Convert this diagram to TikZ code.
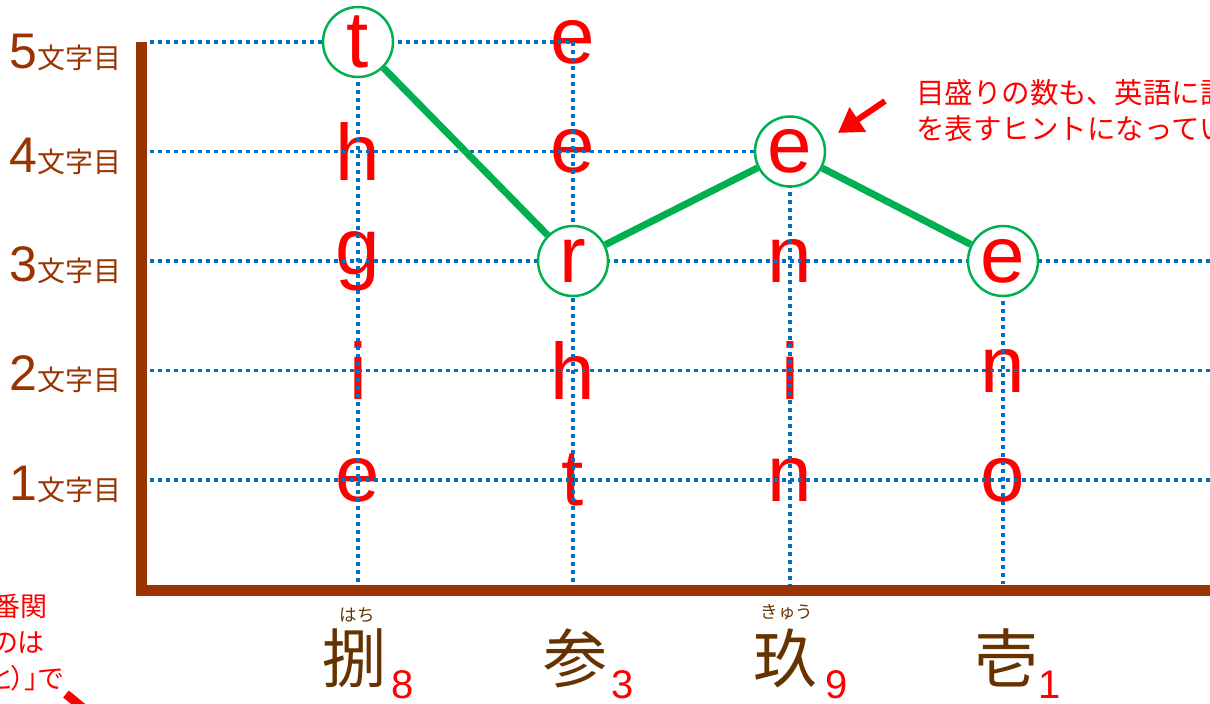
\documentclass[tikz,border=0pt]{standalone}
\usepackage{fontspec}
\setmainfont{Liberation Sans}
\newfontfamily\jpfont{Noto Sans CJK JP}
\newfontfamily\jpnote[RawFeature=+palt]{Noto Sans CJK JP}
\usetikzlibrary{math,arrows.meta}
\definecolor{axisbrown}{HTML}{993300}
\definecolor{kanjibrown}{HTML}{663300}
\definecolor{gridblue}{HTML}{0070C0}
\definecolor{ringgreen}{HTML}{00B050}

\begin{document}
\begin{tikzpicture}[x=1pt,y=-1pt,
  letter/.style={text=red,inner sep=0pt,font=\fontsize{80}{80}\selectfont},
  ring/.style={letter,circle,draw=ringgreen,line width=2.5pt,fill=white,minimum size=70pt},
  dotline/.style={gridblue,line width=3.5pt,dash pattern=on 4pt off 4pt},
  rowlabel/.style={text=axisbrown,inner sep=0pt,anchor=base east},
  kanji/.style={text=kanjibrown,inner sep=0pt,font=\jpfont\fontsize{64}{64}\selectfont},
  ruby/.style={text=kanjibrown,inner sep=0pt,font=\jpfont\fontsize{17.5}{17.5}\selectfont},
  sub/.style={text=red,inner sep=0pt,anchor=base west,font=\fontsize{40}{40}\selectfont},
  note/.style={text=red,inner sep=0pt,font=\jpfont\fontsize{28.5}{28.5}\selectfont},
  sidenote/.style={text=red,inner sep=0pt,anchor=base east,font=\jpnote\fontsize{27}{27}\selectfont}]
  \tikzmath{
    real \xa,\xb,\xc,\xd,\ya,\yb,\yc,\yd,\ye;
    \xa=358;
    \xb=573;
    \xc=790;
    \xd=1003;
    \ya=480;
    \yb=370.5;
    \yc=261;
    \yd=151.5;
    \ye=42;
  }
  \useasboundingbox (0,0) rectangle (1210,704);
  \clip (0,0) rectangle (1210,704);

  % letters
  \node[letter] (a1) at (\xa,\ya) {e};
  \node[letter] (a2) at (\xa,\yb) {i};
  \node[letter] (a3) at (\xa,\yc) {g};
  \node[letter] (a4) at (\xa,\yd) {h};
  \node[letter] (b1) at (\xb,\ya) {t};
  \node[letter] (b2) at (\xb,\yb) {h};
  \node[letter] (b4) at (\xb,\yd) {e};
  \node[letter] (b5) at (\xb,\ye) {e};
  \node[letter] (c1) at (\xc,\ya) {n};
  \node[letter] (c2) at (\xc,\yb) {i};
  \node[letter] (c3) at (\xc,\yc) {n};
  \node[letter] (d1) at (\xd,\ya) {o};
  \node[letter] (d2) at (\xd,\yb) {n};

  % grid
  \draw[dotline] (150,\ya) -- (1210,\ya);
  \draw[dotline] (150,\yb) -- (1210,\yb);
  \draw[dotline] (150,\yc) -- (1210,\yc);
  \draw[dotline] (150,\yd) -- (\xc,\yd);
  \draw[dotline] (150,\ye) -- (\xb,\ye);
  \draw[dotline] (\xa,\ye) -- (\xa,584);
  \draw[dotline] (\xb,\ye) -- (\xb,584);
  \draw[dotline] (\xc,\yd) -- (\xc,584);
  \draw[dotline] (\xd,\yc) -- (\xd,584);

  \draw[axisbrown,line width=11pt,miter limit=4] (141,42) -- (141,590) -- (1215,590);

  % circled letters
  \node[ring] (a5) at (\xa,\ye) {t};
  \node[ring] (b3) at (\xb,\yc) {r};
  \node[ring] (c4) at (\xc,\yd) {e};
  \node[ring] (d3) at (\xd,\yc) {e};
  \draw[ringgreen,line width=7pt] (a5) -- (b3) -- (c4) -- (d3);

  % row labels
  \node[rowlabel] (l5) at (122,68) {\fontsize{50}{50}\selectfont 5{\jpfont\fontsize{28}{28}\selectfont 文字目}};
  \node[rowlabel] (l4) at (122,172) {\fontsize{50}{50}\selectfont 4{\jpfont\fontsize{28}{28}\selectfont 文字目}};
  \node[rowlabel] (l3) at (122,281) {\fontsize{50}{50}\selectfont 3{\jpfont\fontsize{28}{28}\selectfont 文字目}};
  \node[rowlabel] (l2) at (122,390) {\fontsize{50}{50}\selectfont 2{\jpfont\fontsize{28}{28}\selectfont 文字目}};
  \node[rowlabel] (l1) at (122,500) {\fontsize{50}{50}\selectfont 1{\jpfont\fontsize{28}{28}\selectfont 文字目}};

  % column labels
  \node[kanji] (k8) at (354,658) {捌};
  \node[kanji] (k3) at (575,658) {参};
  \node[kanji] (k9) at (785,658) {玖};
  \node[kanji] (k1) at (1006,658) {壱};
  \node[ruby] (r8) at (357,615) {はち};
  \node[ruby] (r9) at (787,612) {きゅう};
  \node[sub] (n8) at (391,698) {8};
  \node[sub] (n3) at (611,698) {3};
  \node[sub] (n9) at (825,698) {9};
  \node[sub] (n1) at (1038,698) {1};

  % notes
  \node[note,anchor=base west] (t1) at (916,103) {目盛りの数も、英語に訳した時の};
  \node[note,anchor=base west] (t2) at (916,139) {を表すヒントになっている};
  \draw[red,line width=6pt,-{Triangle[length=24pt,width=28pt]}] (885,101) -- (838,133);
  \node[sidenote] (s1) at (48,616) {文字の順番関};
  \node[sidenote] (s2) at (45,652) {係を示すのは};
  \node[sidenote] (s3) at (64,688) {「読み（よみと）」で};
  \draw[red,line width=9pt] (66,694) -- (100,722);
\end{tikzpicture}
\end{document}
